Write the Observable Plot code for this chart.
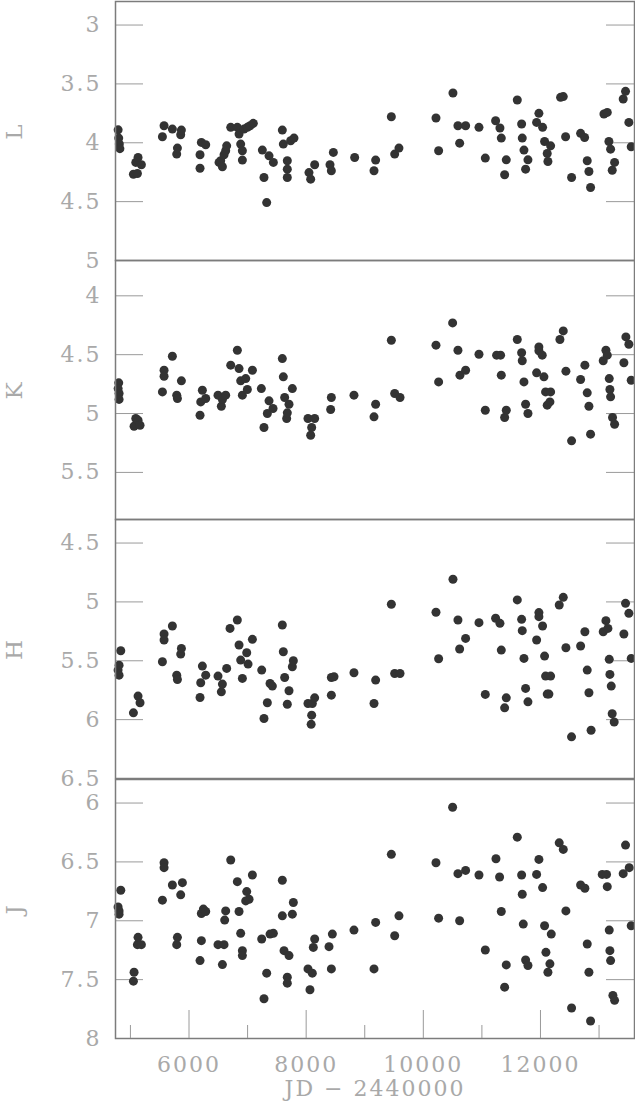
<!DOCTYPE html>
<html><head><meta charset="utf-8">
<script src="https://cdn.jsdelivr.net/npm/d3@7"></script>
<script src="https://cdn.jsdelivr.net/npm/@observablehq/plot@0.6"></script>
<style>
body{margin:0;background:#fff;}
#chart{position:relative;width:635px;height:1104px;overflow:hidden;background:#fff;}
#chart svg{position:absolute;left:0;}
</style></head><body><div id="chart"></div>
<script>
// ---- data (JD - 2440000, magnitude) ----
const L_jd  = [4790,4800,4810,4820,5051,5091,5119,5130,5187,5546,5574,5716,5790,5802,5858,5870,6188,6188,6211,6285,6513,6541,6570,6598,6626,6643,6712,6825,6854,6882,6911,6911,6939,6996,7042,7098,7252,7280,7326,7366,7440,7593,7610,7678,7678,7678,7735,7792,8048,8077,8145,8407,8430,8464,8828,9158,9186,9454,9511,9584,10216,10261,10506,10591,10620,10722,10950,11058,11234,11308,11331,11388,11416,11604,11678,11689,11718,11746,11786,11934,11973,12036,12070,12115,12127,12173,12343,12389,12429,12531,12685,12753,12798,12827,12855,13083,13140,13168,13197,13225,13265,13412,13452,13509,13549];
const L_mag = [3.89,3.96,4.01,4.05,4.267,4.167,4.261,4.125,4.187,3.949,3.855,3.884,4.096,4.045,3.932,3.892,4.102,4.216,3.997,4.017,4.167,4.153,4.204,4.102,4.068,4.026,3.869,3.869,3.926,4.011,4.068,4.147,3.884,3.869,3.855,3.835,4.062,4.295,4.508,4.111,4.167,3.892,4.011,4.153,4.224,4.295,3.983,3.960,4.253,4.309,4.187,4.187,4.238,4.082,4.125,4.238,4.147,3.779,4.096,4.045,3.790,4.068,3.577,3.855,4.003,3.855,3.869,4.130,3.813,3.875,3.960,4.272,4.145,3.637,3.841,3.960,4.062,4.224,4.145,3.827,3.750,3.869,3.989,4.091,4.159,4.026,3.614,3.608,3.949,4.295,3.920,3.955,4.153,4.244,4.380,3.756,3.742,3.989,4.054,4.233,4.167,3.628,3.563,3.827,4.034];

const K_jd  = [4800,4790,4806,4806,5062,5091,5130,5164,5546,5574,5574,5716,5790,5802,5870,6188,6200,6228,6285,6495,6552,6570,6626,6712,6825,6854,6882,6911,6968,6996,7082,7235,7280,7337,7366,7434,7593,7610,7633,7667,7678,7707,7764,8031,8077,8094,8145,8418,8430,8816,9158,9186,9454,9511,9602,10216,10261,10500,10591,10625,10722,10950,11058,11251,11319,11331,11388,11416,11604,11678,11689,11718,11746,11786,11934,11973,11973,12030,12059,12087,12115,12161,12173,12332,12389,12434,12531,12685,12758,12798,12827,12855,13071,13117,13140,13174,13185,13197,13230,13265,13424,13458,13509,13549];
const K_mag = [4.739,4.788,4.830,4.880,5.108,5.042,5.057,5.099,4.816,4.632,4.683,4.513,4.844,4.872,4.722,5.014,4.901,4.802,4.872,4.844,4.938,4.881,4.844,4.589,4.462,4.618,4.722,4.844,4.703,4.796,4.632,4.788,5.119,5.000,4.892,4.957,4.533,4.688,4.864,5.042,4.994,4.921,4.788,5.042,5.184,5.119,5.042,4.966,4.864,4.844,5.028,4.921,4.377,4.830,4.864,4.419,4.731,4.230,4.462,4.674,4.632,4.496,4.972,4.504,4.504,4.674,5.034,4.972,4.371,4.484,4.552,4.731,4.921,5.000,4.654,4.434,4.467,4.504,4.688,4.816,4.929,4.901,4.816,4.371,4.298,4.640,5.232,4.711,4.589,4.824,4.938,5.175,4.552,4.462,4.504,4.703,4.796,4.858,5.034,5.091,4.569,4.349,4.411,4.717];

const H_jd  = [4789,4806,4806,4835,5051,5130,5164,5546,5574,5574,5716,5790,5802,5858,5870,6188,6200,6228,6285,6495,6552,6570,6643,6700,6825,6854,6882,6911,6985,7008,7082,7241,7280,7337,7383,7423,7593,7610,7633,7678,7707,7764,7781,8031,8085,8094,8105,8145,8430,8430,8475,8816,9158,9186,9454,9511,9602,10216,10261,10506,10591,10620,10722,10950,11058,11234,11308,11331,11388,11416,11604,11678,11689,11718,11746,11786,11934,11973,11973,12036,12070,12087,12115,12144,12173,12320,12389,12434,12530,12685,12758,12798,12827,12864,13071,13117,13151,13174,13185,13208,13224,13258,13424,13452,13509,13549];
const H_mag = [5.579,5.537,5.622,5.415,5.942,5.800,5.857,5.508,5.273,5.324,5.205,5.622,5.659,5.443,5.395,5.812,5.687,5.545,5.622,5.630,5.764,5.698,5.565,5.225,5.154,5.366,5.494,5.650,5.432,5.528,5.318,5.579,5.990,5.857,5.693,5.715,5.196,5.423,5.642,5.869,5.755,5.551,5.500,5.863,6.040,5.962,5.863,5.815,5.642,5.792,5.636,5.602,5.863,5.664,5.020,5.608,5.608,5.088,5.483,4.808,5.154,5.400,5.310,5.176,5.786,5.139,5.182,5.409,5.900,5.815,4.983,5.148,5.244,5.480,5.735,5.849,5.324,5.091,5.125,5.205,5.460,5.630,5.783,5.783,5.630,5.026,4.961,5.389,6.146,5.375,5.253,5.579,5.772,6.090,5.253,5.159,5.225,5.488,5.616,5.715,5.950,6.020,5.273,5.012,5.097,5.480];

const J_jd  = [4789,4806,4806,4835,5051,5062,5119,5130,5187,5546,5574,5574,5716,5790,5802,5858,5887,6188,6211,6211,6245,6285,6495,6570,6598,6609,6626,6712,6825,6854,6882,6911,6911,6968,6985,7025,7082,7241,7280,7326,7383,7440,7593,7593,7622,7678,7678,7707,7764,7781,8031,8065,8105,8122,8145,8390,8430,8447,8816,9158,9186,9454,9511,9584,10216,10261,10500,10591,10620,10722,10950,11058,11240,11302,11331,11388,11416,11604,11678,11689,11706,11746,11786,11934,11973,12036,12070,12093,12127,12161,12184,12320,12389,12434,12531,12685,12758,12798,12827,12855,13054,13128,13140,13174,13185,13197,13236,13265,13412,13452,13515,13549];
const J_mag = [6.882,6.916,6.944,6.741,7.513,7.437,7.203,7.141,7.203,6.825,6.507,6.549,6.696,7.203,7.141,6.780,6.676,7.338,6.938,7.169,6.901,6.921,7.203,7.372,7.203,6.994,6.916,6.484,6.668,6.921,7.107,7.254,7.296,6.831,6.752,6.817,6.611,7.155,7.662,7.445,7.113,7.107,6.656,6.958,7.254,7.479,7.530,7.296,6.944,6.845,7.409,7.586,7.445,7.226,7.155,7.220,7.409,7.113,7.079,7.409,7.014,6.436,7.127,6.958,6.507,6.978,6.036,6.600,7.000,6.572,6.611,7.248,6.473,6.628,6.921,7.564,7.375,6.290,6.611,6.775,7.028,7.333,7.380,6.606,6.479,6.718,7.042,7.268,7.437,7.366,7.113,6.338,6.394,6.916,7.741,6.696,6.724,7.197,7.437,7.851,6.606,6.606,6.710,7.079,7.254,7.338,7.634,7.676,6.600,6.357,6.549,7.042];

const L_ticks = [3,3.5,4,4.5,5];
const K_ticks = [4,4.5,5,5.5];
const H_ticks = [4.5,5,5.5,6,6.5];
const J_ticks = [6,6.5,7,7.5,8];
const L_domain = [2.8,5];
const K_domain = [3.7,5.9];
const H_domain = [4.3,6.5];
const J_domain = [5.8,8];
const x_major = [6000,8000,10000,12000];
const x_minor = [5000,7000,9000,11000,13000];
const x_domain = [4745,13605];
const x_label = "JD − 2440000";

// ---- drawing ----
const chart = document.getElementById("chart");
const W = 635, ML = 115, MR = 1, FH = 259;
const FW = W - ML - MR;
const tickColor = "#9a9a9a", frameColor = "#7c7c7c", textColor = "#a9a9a9";

function panel(name, jd, mag, domain, ticks, top, last) {
  const data = jd.map((x, i) => ({jd: x, mag: mag[i]}));
  const mb = last ? 64 : 0;
  const marks = [
    Plot.tickY(ticks, {y: d => d, stroke: tickColor, insetRight: FW - 28}),
    Plot.tickY(ticks, {y: d => d, stroke: tickColor, insetLeft: FW - 28}),
    Plot.axisY(ticks, {tickSize: 0, tickPadding: 14, tickFormat: d => String(d), label: null}),
    Plot.dot(data, {x: "jd", y: "mag", r: 4.5, fill: "#333", stroke: "none"}),
    Plot.frame({stroke: frameColor, strokeWidth: 1.5}),
    Plot.text([name], {text: d => d, frameAnchor: "left", dx: -101, rotate: -90,
      textAnchor: "middle", lineAnchor: "middle", fontSize: 23})
  ];
  if (last) {
    marks.push(
      Plot.tickX(x_major, {x: d => d, stroke: tickColor, insetTop: FH - 28}),
      Plot.tickX(x_minor, {x: d => d, stroke: tickColor, insetTop: FH - 13}),
      Plot.axisX(x_major, {tickSize: 0, tickPadding: 18, tickFormat: d => String(d), label: null}),
      Plot.text([x_label], {text: d => d, frameAnchor: "bottom", dy: 50, textAnchor: "middle", lineAnchor: "middle", fontSize: 22})
    );
  } else {
    marks.push(Plot.axisX({ticks: [], tickSize: 0, label: null}));
  }
  const svg = Plot.plot({
    width: W, height: FH + mb,
    marginLeft: ML, marginRight: MR, marginTop: 0, marginBottom: mb,
    x: {domain: x_domain},
    y: {domain: domain, reverse: true},
    style: {background: "transparent", overflow: "visible", fontFamily: "DejaVu Serif",
      fontSize: "22px", color: textColor, letterSpacing: "2px"},
    marks
  });
  svg.style.top = top + "px";
  chart.appendChild(svg);
}

panel("L", L_jd, L_mag, L_domain, L_ticks, 1, false);
panel("K", K_jd, K_mag, K_domain, K_ticks, 260, false);
panel("H", H_jd, H_mag, H_domain, H_ticks, 519, false);
panel("J", J_jd, J_mag, J_domain, J_ticks, 779, true);
</script></body></html>
